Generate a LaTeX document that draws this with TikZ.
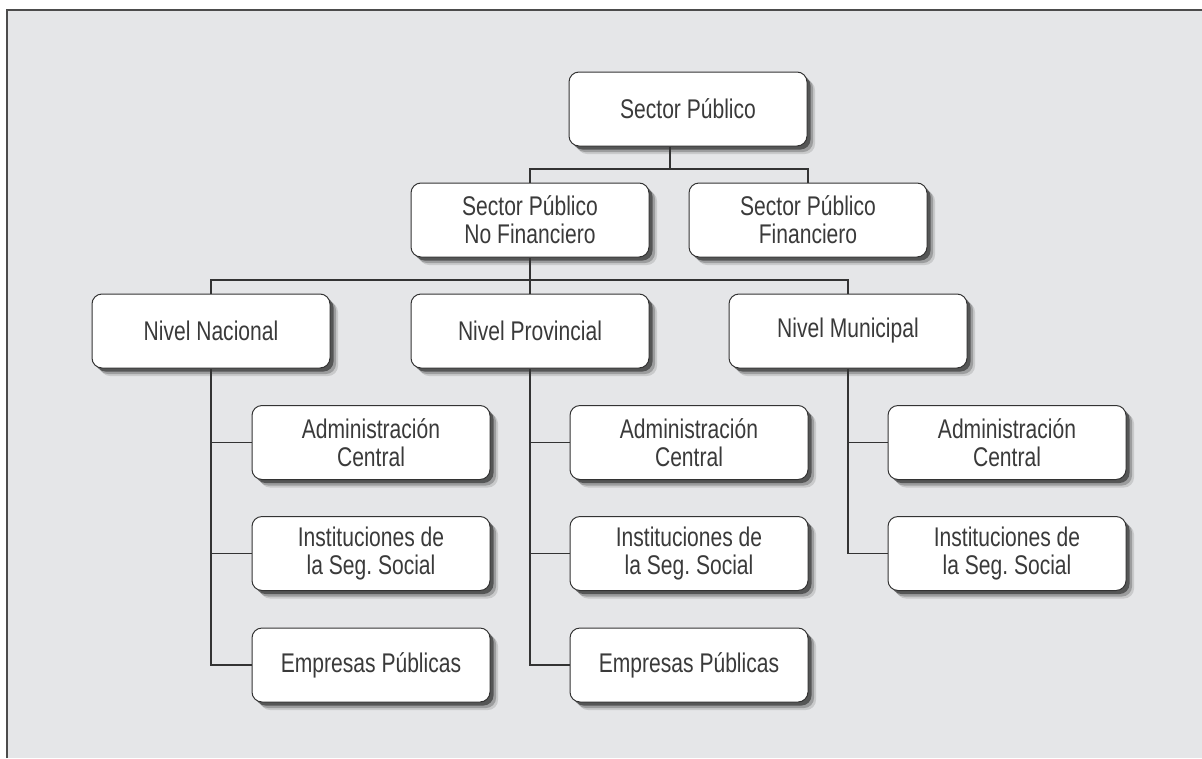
\documentclass[tikz,border=0pt]{standalone}
\usepackage{fontspec}
\setmainfont{Liberation Sans}[FakeStretch=0.78]
\frenchspacing
\usetikzlibrary{shadows}
\definecolor{bgc}{HTML}{E5E6E8}
\definecolor{ln}{HTML}{333333}
\definecolor{tx}{HTML}{3A3A3A}
\tikzset{
  orgbox/.style={draw=ln, line width=1pt, fill=white, rounded corners=10pt,
    minimum width=238pt, minimum height=74pt, inner sep=0pt, align=center,
    text=tx, font=\fontsize{27}{28}\selectfont,
    drop shadow={shadow xshift=8pt, shadow yshift=-8pt, opacity=.12, fill=black},
    drop shadow={shadow xshift=6pt, shadow yshift=-6pt, opacity=.22, fill=black},
    drop shadow={shadow xshift=3.5pt, shadow yshift=-3.5pt, opacity=.45, fill=black}},
  conn/.style={draw=ln, line width=1.5pt},
  frameline/.style={draw=black!70, line width=1.6pt}
}
\begin{document}
\begin{tikzpicture}[x=1pt,y=-1pt]
\useasboundingbox (0,0) rectangle (1202,758);
\fill[white] (0,0) rectangle (1202,758);
\fill[bgc] (7,10) rectangle (1202,758);
\draw[frameline] (7,758) -- (7,10) -- (1202,10);

\coordinate (j1) at (670,169);
\coordinate (j2) at (530,280);

\node[orgbox] (sp)   at (688,109) {Sector Público};
\node[orgbox] (spnf) at (530,220) {Sector Público\\No Financiero};
\node[orgbox] (spf)  at (808,220) {Sector Público\\Financiero};
\node[orgbox] (nac)  at (211,331) {Nivel Nacional};
\node[orgbox] (prov) at (530,331) {Nivel Provincial};
\node[orgbox] (mun)  at (848,331) {Nivel Municipal};

\node[orgbox] (nac1) at (371,442.5) {Administración\\Central};
\node[orgbox] (nac2) at (371,553.5) {Instituciones de\\la Seg. Social};
\node[orgbox] (nac3) at (371,665) {Empresas Públicas};
\node[orgbox] (prov1) at (689,442.5) {Administración\\Central};
\node[orgbox] (prov2) at (689,553.5) {Instituciones de\\la Seg. Social};
\node[orgbox] (prov3) at (689,665) {Empresas Públicas};
\node[orgbox] (mun1) at (1007,442.5) {Administración\\Central};
\node[orgbox] (mun2) at (1007,553.5) {Instituciones de\\la Seg. Social};

\draw[conn] ([xshift=-18pt]sp.south) -- (j1);
\draw[conn] (spnf.north) |- (j1) -| (spf.north);
\draw[conn] (spnf.south) -- (prov.north);
\draw[conn] (nac.north) |- (j2) -| (mun.north);

\draw[conn] (nac.south) |- (nac3.west);
\draw[conn] (nac1.west) -- (nac1.west -| nac.south);
\draw[conn] (nac2.west) -- (nac2.west -| nac.south);
\draw[conn] (prov.south) |- (prov3.west);
\draw[conn] (prov1.west) -- (prov1.west -| prov.south);
\draw[conn] (prov2.west) -- (prov2.west -| prov.south);
\draw[conn] (mun.south) |- (mun2.west);
\draw[conn] (mun1.west) -- (mun1.west -| mun.south);
\end{tikzpicture}
\end{document}
